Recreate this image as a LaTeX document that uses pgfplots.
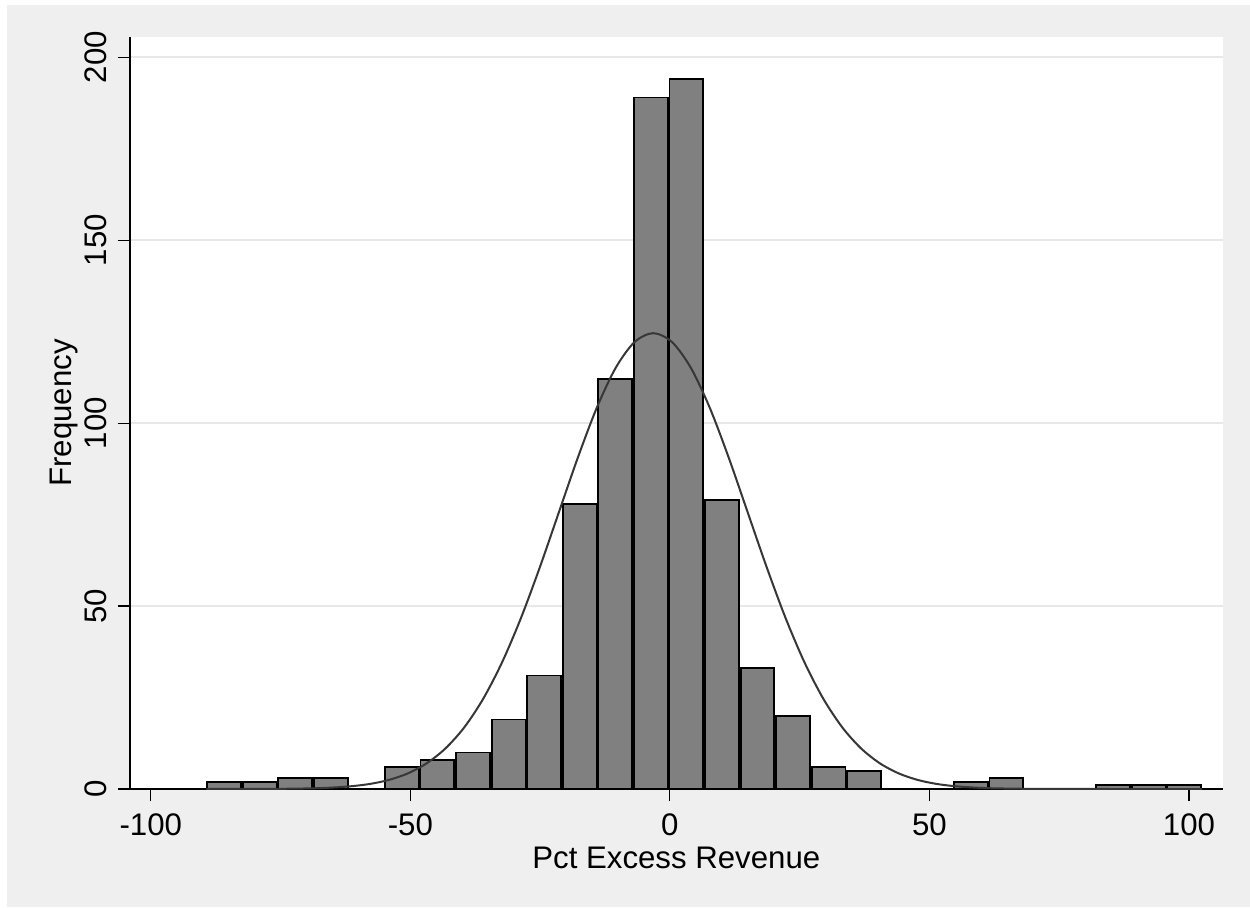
\documentclass[border=0pt]{standalone}
\usepackage{fontspec}
\setmainfont{Liberation Sans}
\usepackage{pgfplots}
\pgfplotsset{compat=1.18}
\definecolor{outerbg}{RGB}{239,239,239}
\definecolor{gridc}{RGB}{232,232,232}
\definecolor{barfill}{RGB}{128,128,128}
\definecolor{curvec}{RGB}{55,55,55}
\newcommand{\lblfont}{\fontsize{15.6}{18}\selectfont}
\begin{document}
\begin{tikzpicture}
\fill[white] (0pt,0pt) rectangle (625pt,453.5pt);
\fill[outerbg] (3.5pt,0pt) rectangle (625pt,451pt);
\useasboundingbox (0pt,0pt) rectangle (625pt,453.5pt);
\begin{axis}[
  at={(65pt,59pt)}, anchor=south west,
  scale only axis, width=546.35pt, height=376pt,
  xmin=-104, xmax=106.49, ymin=0, ymax=205.55,
  axis background/.style={fill=white},
  axis lines*=left,
  axis line style={-, black, line width=0.6pt},
  tick align=outside,
  major tick length=6pt,
  tick style={black, line width=0.6pt},
  xtick={-100,-50,0,50,100},
  xticklabels={-100,-50,0,50,100},
  ytick={0,50,100,150,200},
  yticklabels={0,50,100,150,200},
  ymajorgrids,
  grid style={gridc, line width=1pt},
  xticklabel style={font=\lblfont, anchor=north, inner sep=0pt, yshift=-6pt},
  yticklabel style={font=\lblfont, rotate=90, anchor=south, inner sep=0pt, yshift=5.35pt},
  xlabel={Pct Excess Revenue},
  ylabel={Frequency},
  xlabel style={font=\lblfont, at={(axis description cs:0.5,0)}, anchor=base, yshift=-39.65pt},
  ylabel style={font=\lblfont, at={(axis description cs:0,0.5)}, anchor=base, yshift=29.15pt},
]
\addplot[ybar, bar width=6.5, bar shift=0pt, fill=barfill, draw=black, line width=0.9pt] coordinates {
(-85.875,2) (-79.025,2) (-72.175,3) (-65.325,3) (-58.475,0) (-51.625,6)
(-44.775,8) (-37.925,10) (-31.075,19) (-24.225,31) (-17.375,78) (-10.525,112)
(-3.675,189) (3.175,194) (10.025,79) (16.875,33) (23.725,20) (30.575,6)
(37.425,5) (44.275,0) (51.125,0) (57.975,2) (64.825,3) (71.675,0)
(78.525,0) (85.375,1) (92.225,1) (99.075,1)
};
\addplot[smooth, curvec, line width=1pt, mark=none] coordinates {
(-89.3,0.00) (-76.0,0.04) (-68.72,0.19) (-65.08,0.39) (-61.44,0.75)
(-57.8,1.38) (-54.16,2.47) (-50.52,4.24) (-46.88,6.99) (-43.24,11.08)
(-39.6,16.86) (-35.96,24.66) (-32.32,34.64) (-28.68,46.76) (-25.04,60.66)
(-21.4,75.57) (-17.76,90.47) (-14.12,104.08) (-10.48,115.02) (-6.84,122.13)
(-3.2,124.6) (0.44,122.13) (4.08,115.02) (7.72,104.08) (11.36,90.47)
(15.0,75.57) (18.64,60.66) (22.28,46.76) (25.92,34.64) (29.56,24.66)
(33.2,16.86) (36.84,11.08) (40.48,6.99) (44.12,4.24) (47.76,2.47)
(51.4,1.38) (55.04,0.75) (58.68,0.39) (62.32,0.19) (69.6,0.04)
(80,0.003) (102.5,0.00)
};
\end{axis}
\end{tikzpicture}
\end{document}
